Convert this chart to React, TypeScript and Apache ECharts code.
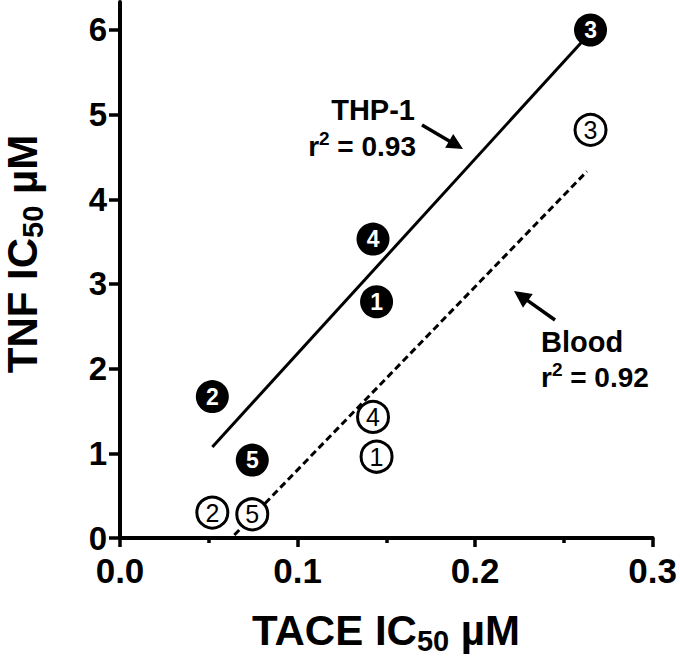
import React, { useEffect, useRef } from "react";
import * as echarts from "echarts";

// ---- data ----
const compoundIds = ["1", "2", "3", "4", "5"];
const taceIC50 = [0.1445, 0.052, 0.265, 0.1425, 0.0745];
const thp1TNF = [2.79, 1.67, 6.0, 3.53, 0.92];
const bloodTNF = [0.96, 0.3, 4.82, 1.43, 0.28];

// regression line end points
const thp1FitX = [0.052, 0.2597];
const thp1FitY = [1.075, 5.85];
const bloodFitX = [0.0644, 0.263];
const bloodFitY = [0.035, 4.33];

const xTicks = [0, 0.1, 0.2, 0.3];
const yTicks = [0, 1, 2, 3, 4, 5, 6];

const FONT = '"Liberation Sans", Arial, Helvetica, sans-serif';

function arrow(tx: number, ty: number, hx: number, hy: number, headLen: number, headHalf: number) {
  const dx = hx - tx;
  const dy = hy - ty;
  const len = Math.sqrt(dx * dx + dy * dy);
  const ux = dx / len;
  const uy = dy / len;
  const bx = hx - ux * headLen;
  const by = hy - uy * headLen;
  const px = -uy;
  const py = ux;
  return [
    {
      type: "line",
      shape: { x1: tx, y1: ty, x2: bx + ux * 2, y2: by + uy * 2 },
      style: { stroke: "#000", lineWidth: 3.5 },
    },
    {
      type: "polygon",
      shape: {
        points: [
          [hx, hy],
          [bx + px * headHalf, by + py * headHalf],
          [bx - px * headHalf, by - py * headHalf],
        ],
      },
      style: { fill: "#000" },
    },
  ];
}

export default function App() {
  const ref = useRef<HTMLDivElement>(null);

  useEffect(() => {
    if (!ref.current) return;
    const chart = echarts.init(ref.current, undefined, { renderer: "svg" });

    const titleRich = {
      a: { fontSize: 42, fontWeight: "bold", fontFamily: FONT, color: "#000", lineHeight: 44 },
      b: {
        fontSize: 29,
        fontWeight: "bold",
        fontFamily: FONT,
        color: "#000",
        lineHeight: 29,
        padding: [22, 0, 0, 0],
      },
    };
    const rRich = {
      n: { fontSize: 28, fontWeight: "bold", fontFamily: FONT, color: "#000", lineHeight: 34 },
      s: {
        fontSize: 19,
        fontWeight: "bold",
        fontFamily: FONT,
        color: "#000",
        lineHeight: 19,
        padding: [0, 0, 16, 0],
      },
    };

    const option: any = {
      animation: false,
      backgroundColor: "#fff",
      grid: { left: 120, right: 24, top: 2, bottom: 126, containLabel: false },
      xAxis: {
        type: "value",
        min: 0,
        max: 0.3,
        interval: 0.1,
        axisLine: { show: true, onZero: false, lineStyle: { color: "#000", width: 4 } },
        axisTick: { show: true, length: 9, lineStyle: { color: "#000", width: 3.5 } },
        minorTick: { show: true, splitNumber: 2, length: 5, lineStyle: { color: "#000", width: 3.5 } },
        splitLine: { show: false },
        axisLabel: {
          margin: 19,
          fontSize: 35,
          lineHeight: 26,
          fontWeight: "bold",
          fontFamily: FONT,
          color: "#000",
          customValues: xTicks,
          formatter: (v: number) => v.toFixed(1),
        },
      },
      yAxis: {
        type: "value",
        min: 0,
        max: 6.33,
        axisLine: { show: true, onZero: false, lineStyle: { color: "#000", width: 4 } },
        axisTick: { show: true, length: 11, customValues: yTicks, lineStyle: { color: "#000", width: 3.5 } },
        splitLine: { show: false },
        axisLabel: {
          margin: 13,
          fontSize: 33,
          lineHeight: 24,
          fontWeight: "bold",
          fontFamily: FONT,
          color: "#000",
          customValues: yTicks,
          formatter: (v: number) => String(v),
        },
      },
      series: [
        {
          type: "line",
          data: thp1FitX.map((x, i) => [x, thp1FitY[i]]),
          showSymbol: false,
          symbol: "none",
          lineStyle: { color: "#000", width: 3 },
          z: 1,
          silent: true,
        },
        {
          type: "line",
          data: bloodFitX.map((x, i) => [x, bloodFitY[i]]),
          showSymbol: false,
          symbol: "none",
          lineStyle: { color: "#000", width: 3, type: [7, 4] },
          z: 1,
          silent: true,
        },
        {
          type: "scatter",
          data: taceIC50.map((x, i) => [x, thp1TNF[i], compoundIds[i]]),
          symbol: "circle",
          symbolSize: 33,
          itemStyle: { color: "#000", opacity: 1 },
          label: {
            show: true,
            position: "inside",
            formatter: (p: any) => p.value[2],
            color: "#fff",
            fontSize: 23,
            fontWeight: "bold",
            fontFamily: FONT,
          },
          z: 3,
        },
        {
          type: "scatter",
          data: taceIC50.map((x, i) => [x, bloodTNF[i], compoundIds[i]]),
          symbol: "circle",
          symbolSize: 31,
          itemStyle: { color: "#fff", borderColor: "#000", borderWidth: 3, opacity: 1 },
          label: {
            show: true,
            position: "inside",
            formatter: (p: any) => p.value[2],
            color: "#000",
            fontSize: 25,
            fontWeight: "normal",
            fontFamily: FONT,
          },
          z: 3,
        },
      ],
      graphic: [
        {
          type: "text",
          x: 386,
          y: 630,
          style: {
            text: "{a|TACE IC}{b|50}{a| µM}",
            rich: titleRich,
            align: "center",
            verticalAlign: "middle",
          },
        },
        {
          type: "text",
          x: 22,
          y: 254,
          rotation: Math.PI / 2,
          style: {
            text: "{a|TNF IC}{b|50}{a| µM}",
            rich: titleRich,
            align: "center",
            verticalAlign: "middle",
          },
        },
        {
          type: "text",
          x: 415,
          y: 110,
          style: {
            text: "THP-1",
            fontSize: 29,
            fontWeight: "bold",
            fontFamily: FONT,
            fill: "#000",
            align: "right",
            verticalAlign: "middle",
          },
        },
        {
          type: "text",
          x: 416,
          y: 146,
          style: {
            text: "{n|r}{s|2}{n| = 0.93}",
            rich: rRich,
            align: "right",
            verticalAlign: "middle",
          },
        },
        {
          type: "text",
          x: 541,
          y: 342,
          style: {
            text: "Blood",
            fontSize: 29,
            fontWeight: "bold",
            fontFamily: FONT,
            fill: "#000",
            align: "left",
            verticalAlign: "middle",
          },
        },
        {
          type: "text",
          x: 541,
          y: 377,
          style: {
            text: "{n|r}{s|2}{n| = 0.92}",
            rich: rRich,
            align: "left",
            verticalAlign: "middle",
          },
        },
        ...arrow(422, 125, 463, 149, 16, 8),
        ...arrow(555, 320, 514, 291, 17, 8.5),
      ],
    };

    chart.setOption(option);
    return () => chart.dispose();
  }, []);

  return (
    <div
      ref={ref}
      style={{ position: "fixed", left: 0, top: 0, width: 680, height: 664, background: "#fff" }}
    />
  );
}
